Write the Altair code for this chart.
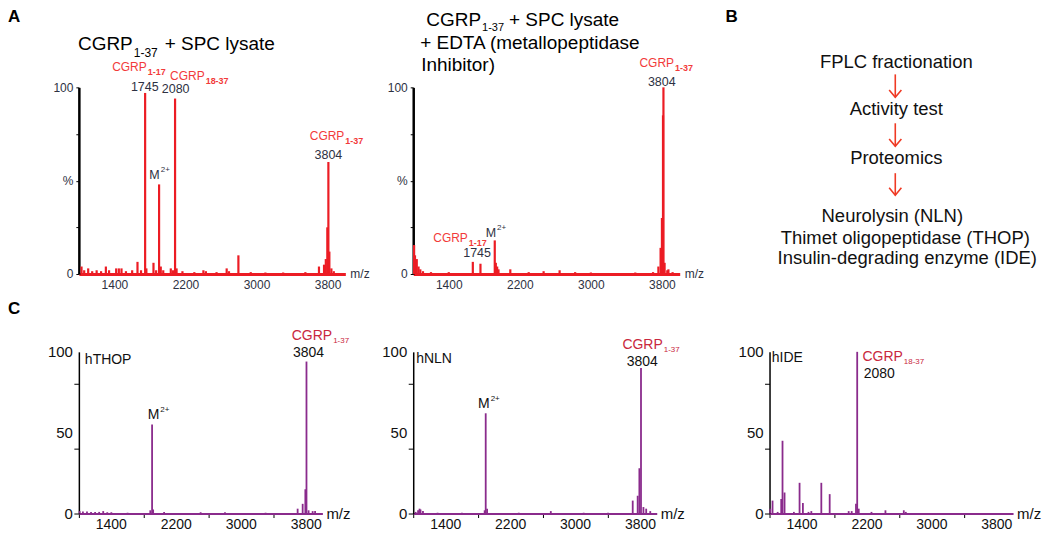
import altair as alt
import pandas as pd

# ---------------- values ----------------
# Panel A, left spectrum: CGRP1-37 + SPC lysate  (peak m/z, relative intensity %)
A1_MZ = [1030, 1060, 1105, 1150, 1200, 1250, 1304, 1340, 1420, 1450,
         1480, 1530, 1600, 1660, 1700, 1746, 1760, 1840, 1870, 1903,
         1922, 1950, 2035, 2060, 2083, 2100, 2166, 2300, 2402, 2430,
         2550, 2664, 2690, 2796, 2935, 3100, 3300, 3550, 3703, 3760,
         3780, 3797, 3809, 3820, 3843, 3870]
A1_INT = [4, 2, 3, 1.5, 2, 1.5, 4, 2, 3, 3,
          3, 1.5, 2, 6.5, 2, 97, 3, 6, 2, 48,
          4, 2, 3, 2, 94, 3, 1.5, 1, 2, 1.5,
          1, 3, 1.5, 10, 1, 0.8, 0.8, 1, 4, 5,
          8, 25, 60, 12, 3, 1.5]

# Panel A, right spectrum: CGRP1-37 + SPC lysate + EDTA
A2_MZ = [1010, 1020, 1040, 1060, 1080, 1110, 1200, 1400, 1671, 1757,
         1918, 1930, 1945, 1960, 2093, 2300, 2468, 2648, 2823, 3000,
         3500, 3700, 3760, 3785, 3800, 3812, 3817, 3830, 3860, 3873,
         3920]
A2_INT = [15.5, 10, 8, 4, 2.5, 1.5, 1, 1, 6.5, 5.5,
          18, 6, 4, 2.5, 2.5, 1, 1.5, 2, 1, 0.8,
          0.8, 1, 4, 14, 30, 85, 100, 6, 2, 2.5,
          1]

# Panel C spectra: hTHOP, hNLN, hIDE
C1_MZ = [1010, 1050, 1100, 1150, 1200, 1250, 1300, 1350, 1400, 1600,
         1880, 1902, 1915, 2050, 2500, 2800, 3300, 3695, 3757, 3790,
         3804, 3830, 3880, 3910]
C1_INT = [1.5, 1.2, 1.2, 1, 1, 1, 1.5, 0.8, 0.8, 0.5,
          2, 55, 2.5, 1, 0.8, 0.8, 0.5, 3, 6, 15,
          94, 2, 1.5, 1.5]

C2_MZ = [1030, 1060, 1078, 1090, 1120, 1300, 1600, 1880, 1893, 1910,
         2300, 2695, 3100, 3400, 3704, 3765, 3786, 3806, 3836, 3870,
         3920]
C2_INT = [1, 2, 3, 2.5, 1.5, 0.5, 0.5, 2, 62, 3,
          0.5, 1.5, 0.5, 0.5, 8, 11, 28, 90, 4, 3,
          1.5]

C3_MZ = [1009, 1037, 1100, 1144, 1160, 1185, 1300, 1370, 1411, 1480,
         1515, 1638, 1741, 1975, 2012, 2065, 2080, 2099, 2256, 2428,
         2654, 2679]
C3_INT = [3, 8, 1, 9, 45, 13, 1, 19, 6.5, 1,
          1.5, 19, 12, 1.5, 1.5, 6, 100, 3, 1, 2,
          2, 1]

# axis ticks and tick labels
X_LABELS = [1400, 2200, 3000, 3800]
X_TICKS_C = [1000, 1200, 1400, 1600, 1800, 2000, 2200, 2400, 2600, 2800,
             3000, 3200, 3400, 3600, 3800, 4000]
Y_TICKS_A = [0, 12.5, 25, 37.5, 50, 62.5, 75, 87.5, 100]
Y_TICKS_C = [0, 10, 20, 30, 40, 50, 60, 70, 80, 90, 100]
Y_LABELS_C = [0, 50, 100]

# peak annotations: (text, m/z, intensity %)  /  (text, sub- or superscript, m/z, intensity %)
A1_NUM = [("1745", 1742, 100), ("2080", 2090, 99), ("3804", 3809, 64)]
A1_SUB = [("CGRP", "1-17", 1764, 111), ("CGRP", "18-37", 2416, 106), ("CGRP", "1-37", 3989, 74)]
A1_SUP = [("M", "2+", 1910, 53)]

A2_NUM = [("3804", 3798, 103), ("1745", 1719, 11)]
A2_SUB = [("CGRP", "1-37", 3936, 113), ("CGRP", "1-17", 1615, 19.5)]
A2_SUP = [("M", "2+", 1933, 22)]

C1_TXT = [("hTHOP", 1074, 95), ("3804", 3638, 99.5)]
C1_SUB = [("CGRP", "1-37", 4120, 110)]
C1_SUP = [("M", "2+", 1991, 61)]

C2_TXT = [("hNLN", 1037, 95.5), ("3804", 3630, 94)]
C2_SUB = [("CGRP", "1-37", 4074, 104.5)]
C2_SUP = [("M", "2+", 1942, 67.6)]

C3_TXT = [("hIDE", 1028, 96), ("2080", 2160, 86.5)]
C3_SUB = [("CGRP", "18-37", 2642, 96.5)]

# Panel B flow chart
B_STEPS = ["FPLC fractionation", "Activity test", "Proteomics"]
B_ENZYMES = ["Neurolysin (NLN)", "Thimet oligopeptidase (THOP)", "Insulin-degrading enzyme (IDE)"]

# ---------------- layout (pixels) ----------------
B_STEP_Y = [-25, 22, 71]
B_STEP_X = 127
B_ENZ_Y = [129, 151, 171]
B_ENZ_X = [123, 136, 138]
B_ARROWS = [(-13, 10), (36, 59), (86, 108)]
B_ARROW_X = 126

# ---------------- style ----------------
FONT = "Liberation Sans"
RED = "#ec1c24"
RED_T = "#f23a3a"
DARK = "#2d3142"
PURPLE = "#8a2b8c"
CRIMSON = "#c9283e"
ARROW = "#ef3a24"
ONE = pd.DataFrame({"k": [0]})

XSCALE = alt.Scale(domain=[1000, 4000], nice=False, zero=False)
YSCALE = alt.Scale(domain=[0, 100], nice=False, zero=False)


def X(axis=None):
    if axis is None:
        return alt.X("mz:Q", scale=XSCALE, title=None)
    return alt.X("mz:Q", scale=XSCALE, axis=axis, title=None)


def Y(axis=None):
    if axis is None:
        return alt.Y("int:Q", scale=YSCALE, title=None)
    return alt.Y("int:Q", scale=YSCALE, axis=axis, title=None)


def spectrum(mz, inten, color, sw, xaxis, yaxis):
    df = pd.DataFrame({"mz": mz, "int": inten})
    return alt.Chart(df).mark_rule(color=color, strokeWidth=sw).encode(
        x=X(xaxis), y=Y(yaxis), y2=alt.datum(0))


def plain(rows, color, size, align="center", dx=0, dy=0):
    df = pd.DataFrame(rows, columns=["t", "mz", "int"])
    return alt.Chart(df).mark_text(font=FONT, fontSize=size, color=color, align=align,
                                   baseline="middle", dx=dx, dy=dy).encode(
        x=X(), y=Y(), text="t:N")


def scripted(rows, color, size, ssize, sdy, sweight="normal"):
    df = pd.DataFrame(rows, columns=["t", "s", "mz", "int"])
    base = alt.Chart(df).encode(x=X(), y=Y())
    main = base.mark_text(font=FONT, fontSize=size, color=color, align="right",
                          baseline="middle").encode(text="t:N")
    sub = base.mark_text(font=FONT, fontSize=ssize, color=color, align="left", baseline="middle",
                         dx=1, dy=sdy, fontWeight=sweight).encode(text="s:N")
    return [main, sub]


def fixed(text, x, y, size, color="black", align="left", baseline="middle", weight="normal"):
    return alt.Chart(ONE).mark_text(font=FONT, fontSize=size, color=color, align=align,
                                    baseline=baseline, fontWeight=weight).encode(
        x=alt.value(x), y=alt.value(y), text=alt.value(text))


def a_axes():
    xa = alt.Axis(values=X_LABELS, format="d", ticks=False, grid=False, domainColor=RED,
                  domainWidth=3, labelColor=DARK, labelFontSize=12, labelPadding=6,
                  labelFlush=False, labelOverlap=False, labelFont=FONT)
    ya = alt.Axis(values=Y_TICKS_A,
                  labelExpr="datum.value == 100 ? '100' : datum.value == 50 ? '%' : datum.value == 0 ? '0' : ''",
                  grid=False, domainColor="black", domainWidth=2.5, tickColor="black", tickSize=3,
                  tickWidth=1, labelColor=DARK, labelFontSize=12, labelPadding=3,
                  labelOverlap=False, labelFont=FONT)
    return xa, ya


def c_axes():
    # tick labels of panel C are drawn as text layers (see c_panel)
    xa = alt.Axis(values=X_TICKS_C, labels=False, tickSize=4, tickColor="black", tickWidth=1,
                  grid=False, domainColor=PURPLE, domainWidth=2)
    ya = alt.Axis(values=Y_TICKS_C, labels=False, tickSize=5, tickColor="black", tickWidth=1,
                  grid=False, domainColor="black", domainWidth=1.5)
    return xa, ya


# ---------------- panel A ----------------
xa, ya = a_axes()
a1 = alt.layer(
    spectrum(A1_MZ, A1_INT, RED, 2.2, xa, ya),
    plain(A1_NUM, DARK, 12.5),
    *scripted(A1_SUB, RED_T, 12, 9, 5, "bold"),
    *scripted(A1_SUP, DARK, 12.5, 8, -5),
    plain([("m/z", 4000, 0)], DARK, 12, align="left", dx=5),
    fixed("A", -71, -78, 17, baseline="top", weight="bold"),
    fixed("CGRP", 54, -43, 19, align="right"),
    fixed("1-37", 55, -34, 12),
    fixed("+ SPC lysate", 86, -43, 19),
).properties(width=267, height=187)

xa, ya = a_axes()
a2 = alt.layer(
    spectrum(A2_MZ, A2_INT, RED, 2.2, xa, ya),
    plain(A2_NUM, DARK, 12.5),
    *scripted(A2_SUB, RED_T, 12, 9, 5, "bold"),
    *scripted(A2_SUP, DARK, 12.5, 8, -5),
    plain([("m/z", 4000, 0)], DARK, 12, align="left", dx=5),
    fixed("CGRP", 68, -67, 19, align="right"),
    fixed("1-37", 69, -59, 11),
    fixed("+ SPC lysate", 96, -67, 19),
    fixed("+ EDTA (metallopeptidase", 7, -44, 19),
    fixed("Inhibitor)", 8, -22, 19),
).properties(width=267, height=187)

# ---------------- panel B ----------------
b_layers = [fixed("B", -44, -78, 17, baseline="top", weight="bold")]
for label, y in zip(B_STEPS, B_STEP_Y):
    b_layers.append(fixed(label, B_STEP_X, y, 18.5, color="#111111", align="center"))
for label, y, x in zip(B_ENZYMES, B_ENZ_Y, B_ENZ_X):
    b_layers.append(fixed(label, x, y, 18.5, color="#111111", align="center"))
for y1, y2 in B_ARROWS:
    b_layers.append(alt.Chart(ONE).mark_rule(color=ARROW, strokeWidth=1.6).encode(
        x=alt.value(B_ARROW_X), y=alt.value(y1), y2=alt.value(y2)))
    b_layers.append(alt.Chart(ONE).mark_point(shape="M-1,-1.2L0,0L1,-1.2", size=150, filled=False,
                                              color=ARROW, strokeWidth=1.6, opacity=1).encode(
        x=alt.value(B_ARROW_X), y=alt.value(y2)))
b = alt.layer(*b_layers).properties(width=264, height=187)


# ---------------- panel C ----------------
def c_panel(mz, inten, txt, sub, sup, letter=False):
    xa, ya = c_axes()
    xlab = [(str(v), v, 0) for v in X_LABELS]
    ylab = [(str(v), 1000, v) for v in Y_LABELS_C]
    layers = [
        spectrum(mz, inten, PURPLE, 1.8, xa, ya),
        plain(xlab, "#111111", 14, align="center", dy=12),
        plain(ylab, "#111111", 15, align="right", dx=-6),
        plain(txt, "#111111", 14, align="left"),
        *scripted(sub, CRIMSON, 14, 8, 5),
    ]
    if sup:
        layers += scripted(sup, "#111111", 14, 8, -5)
    layers.append(plain([("m/z", 4000, 0)], "#111111", 15, align="left", dx=4))
    if letter:
        layers.append(fixed("C", -71, -51, 17, baseline="top", weight="bold"))
    return alt.layer(*layers).properties(width=244, height=162)


c1 = c_panel(C1_MZ, C1_INT, C1_TXT, C1_SUB, C1_SUP, letter=True)
c2 = c_panel(C2_MZ, C2_INT, C2_TXT, C2_SUB, C2_SUP)
c3 = c_panel(C3_MZ, C3_INT, C3_TXT, C3_SUB, None)


def spacer(w):
    return alt.Chart(ONE).mark_text(fontSize=1).encode(
        x=alt.value(0), y=alt.value(0), text=alt.value(" ")).properties(width=w, height=10)


chart = alt.concat(
    a1, spacer(68), a2, spacer(90), b,
    c1, spacer(68), c2, spacer(90), c3,
    columns=5, spacing={"row": 78, "column": 0}, bounds="flush", align="each",
).properties(padding=0).configure_view(stroke=None).configure_axis(labelOverlap=False)

chart.save("out.html", embed_options={"renderer": "svg", "actions": False})
